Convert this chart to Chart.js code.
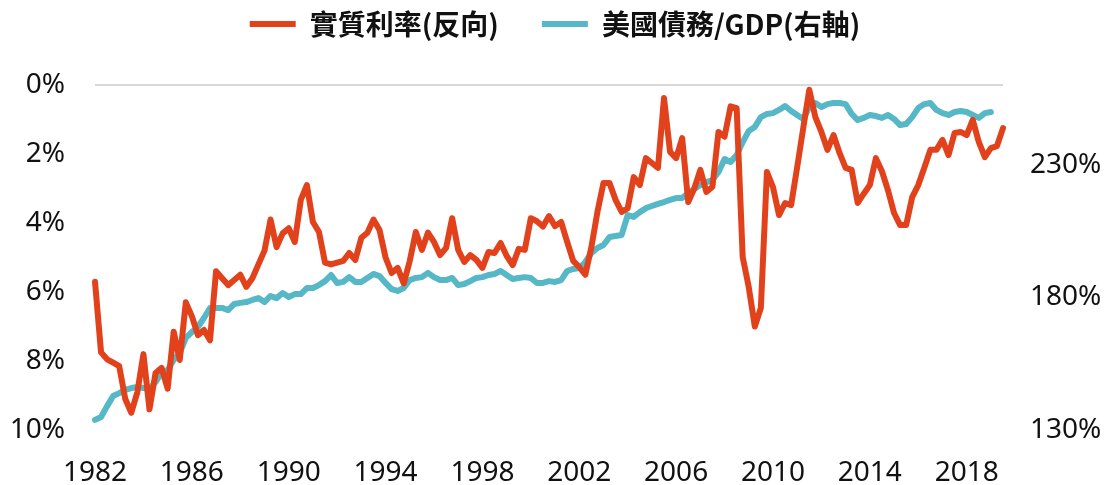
<!DOCTYPE html>
<html lang="zh-Hant">
<head>
  <meta charset="utf-8">
  <title>實質利率與美國債務/GDP</title>
  <style>
    html, body { margin: 0; padding: 0; background: #fff; }
    #wrap { width: 1110px; height: 485px; }
  </style>
</head>
<body>
  <div id="wrap"><canvas id="myChart" width="1110" height="485"></canvas></div>
  <script src="https://cdn.jsdelivr.net/npm/chart.js"></script>
  <script>
    // quarterly, 1982Q1 .. 2019Q3
    const firstYear = 1982
    const pointCount = 151
    const tickYears = ['1982', '1986', '1990', '1994', '1998', '2002', '2006', '2010', '2014', '2018']
    const leftTicks = [0, 2, 4, 6, 8, 10]
    const rightTicks = [130, 180, 230]

    // 實質利率 (%), drawn on a reversed axis
    const realRate = [
      5.7, 7.75, 7.95, 8.05, 8.15, 9.1, 9.5, 8.9, 7.8, 9.4,
      8.35, 8.2, 8.8, 7.15, 7.97, 6.3, 6.7, 7.25, 7.1, 7.4,
      5.4, 5.6, 5.8, 5.65, 5.5, 5.85, 5.6, 5.2, 4.8, 3.9,
      4.7, 4.3, 4.15, 4.55, 3.33, 2.9, 3.97, 4.26, 5.15, 5.2,
      5.15, 5.1, 4.87, 5.07, 4.43, 4.28, 3.9, 4.2, 5.0, 5.45,
      5.3, 5.75, 5.1, 4.26, 4.78, 4.28, 4.55, 4.93, 4.72, 3.86,
      4.78, 5.13, 4.93, 5.07, 5.3, 4.84, 4.87, 4.58, 4.95, 5.22,
      4.75, 4.78, 3.86, 3.95, 4.1, 3.8, 4.09, 3.97, 4.55, 5.1,
      5.28, 5.5, 4.7, 3.68, 2.84, 2.84, 3.33, 3.68, 3.57, 2.67,
      2.9, 2.12, 2.26, 2.4, 0.38, 1.94, 2.12, 1.54, 3.39, 3.0,
      2.46, 3.1, 2.95, 1.36, 1.5, 0.62, 0.67, 4.99, 5.86, 7.0,
      6.46, 2.52, 2.96, 3.77, 3.42, 3.48, 2.38, 1.25, 0.14, 0.93,
      1.36, 1.88, 1.45, 1.97, 2.4, 2.46, 3.42, 3.15, 2.9, 2.12,
      2.5, 3.05, 3.71, 4.06, 4.06, 3.25, 2.9, 2.4, 1.88, 1.88,
      1.59, 2.03, 1.39, 1.36, 1.45, 1.01, 1.65, 2.09, 1.83, 1.77,
      1.25
    ]

    // 美國債務/GDP (%), right axis
    const debtToGdp = [
      133.8, 134.9, 139.0, 142.8, 143.9, 145.1, 145.8, 146.2, 145.8, 145.4,
      148.1, 151.5, 152.6, 156.4, 159.0, 164.7, 166.9, 168.8, 172.2, 176.0,
      176.0, 176.0, 175.2, 177.5, 177.9, 178.2, 179.0, 179.7, 178.2, 180.5,
      179.7, 181.6, 180.1, 181.2, 181.2, 183.5, 183.5, 184.6, 186.1, 188.4,
      185.4, 185.8, 187.6, 185.8, 185.8, 187.3, 188.8, 188.0, 185.4, 183.1,
      182.4, 183.5, 186.5, 187.3, 187.6, 189.2, 187.6, 186.5, 186.5, 187.3,
      184.6, 185.0, 186.1, 187.3, 187.6, 188.4, 188.8, 189.9, 188.4, 186.9,
      187.3, 187.6, 187.3, 185.4, 185.4, 186.1, 185.8, 186.5, 189.9, 190.7,
      191.0, 193.3, 196.7, 198.6, 199.7, 202.7, 203.1, 203.5, 211.0, 210.3,
      212.1, 213.6, 214.4, 215.2, 215.9, 216.7, 217.4, 217.4, 219.3, 220.8,
      222.3, 223.4, 224.2, 227.2, 232.1, 231.0, 233.6, 238.5, 242.7, 244.2,
      247.9, 249.1, 249.4, 250.6, 252.1, 250.2, 248.7, 247.2, 251.7, 253.2,
      251.7, 252.8, 253.2, 253.2, 252.8, 249.1, 246.8, 247.6, 248.7, 248.3,
      247.6, 248.7, 247.2, 244.9, 245.3, 247.9, 251.3, 252.8, 253.2, 250.6,
      249.4, 248.7, 249.8, 250.2, 249.8, 248.7, 247.6, 249.4, 249.8, null,
      null
    ]

    const quarters = []
    for (let i = 0; i < pointCount; i++) {
      quarters.push((firstYear + Math.floor(i / 4)) + 'Q' + (i % 4 + 1))
    }

    const tickFont = { family: 'Noto Sans', size: 28 }

    // legend uses wide item padding; pull it up and fix its band so the
    // plot area starts at y=85 like the original
    const legendPad = 43
    const legendBand = {
      id: 'legendBand',
      beforeInit(chart) {
        const fit = chart.legend.fit
        chart.legend.fit = function () {
          fit.call(this)
          this.height = 85 + (legendPad - 10)
        }
      }
    }

    const ctx = document.getElementById('myChart').getContext('2d')
    const myChart = new Chart(ctx, {
      type: 'line',
      data: {
        labels: quarters,
        datasets: [{
          label: '實質利率(反向)',
          data: realRate,
          yAxisID: 'y',
          borderColor: '#e2421b',
          backgroundColor: '#e2421b',
          borderWidth: 6,
          pointRadius: 0,
          tension: 0,
          borderJoinStyle: 'round',
          borderCapStyle: 'round'
        }, {
          label: '美國債務/GDP(右軸)',
          data: debtToGdp,
          yAxisID: 'y1',
          borderColor: '#56b7c7',
          backgroundColor: '#56b7c7',
          borderWidth: 6,
          pointRadius: 0,
          tension: 0,
          borderJoinStyle: 'round',
          borderCapStyle: 'round'
        }]
      },
      options: {
        responsive: false,
        animation: false,
        layout: { padding: { top: -(legendPad - 10), left: 0, right: 0, bottom: 0 } },
        plugins: {
          tooltip: { enabled: false },
          legend: {
            position: 'top',
            labels: {
              usePointStyle: true,
              pointStyle: 'line',
              pointStyleWidth: 46,
              padding: legendPad,
              color: '#111',
              font: { family: 'Noto Sans CJK TC', size: 28, weight: 'bold' }
            }
          }
        },
        scales: {
          x: {
            grid: { display: false },
            border: { display: false },
            afterFit(s) { s.height = 55 },
            ticks: {
              autoSkip: false,
              maxRotation: 0,
              padding: 18,
              color: '#111',
              font: tickFont,
              callback(v) {
                const lab = this.getLabelForValue(v)
                const yr = lab.slice(0, 4)
                return lab.endsWith('Q1') && tickYears.includes(yr) ? yr : ''
              }
            }
          },
          y: {
            position: 'left',
            reverse: true,
            min: 0,
            max: 10,
            afterFit(s) { s.width = 95 },
            afterBuildTicks(s) { s.ticks = leftTicks.map(v => ({ value: v })) },
            border: { display: false },
            grid: {
              drawTicks: false,
              lineWidth: 2,
              color: c => (c.tick && c.tick.value === 0 ? '#d9d9d9' : 'rgba(0,0,0,0)')
            },
            ticks: {
              padding: 30,
              color: '#111',
              font: tickFont,
              callback: v => v + '%'
            }
          },
          y1: {
            position: 'right',
            min: 130,
            max: 260,
            afterFit(s) { s.width = 107 },
            afterBuildTicks(s) { s.ticks = rightTicks.map(v => ({ value: v })) },
            border: { display: false },
            grid: { display: false, drawTicks: false },
            ticks: {
              padding: 27,
              color: '#111',
              font: tickFont,
              callback: v => v + '%'
            }
          }
        }
      },
      plugins: [legendBand]
    })
  </script>
</body>
</html>
